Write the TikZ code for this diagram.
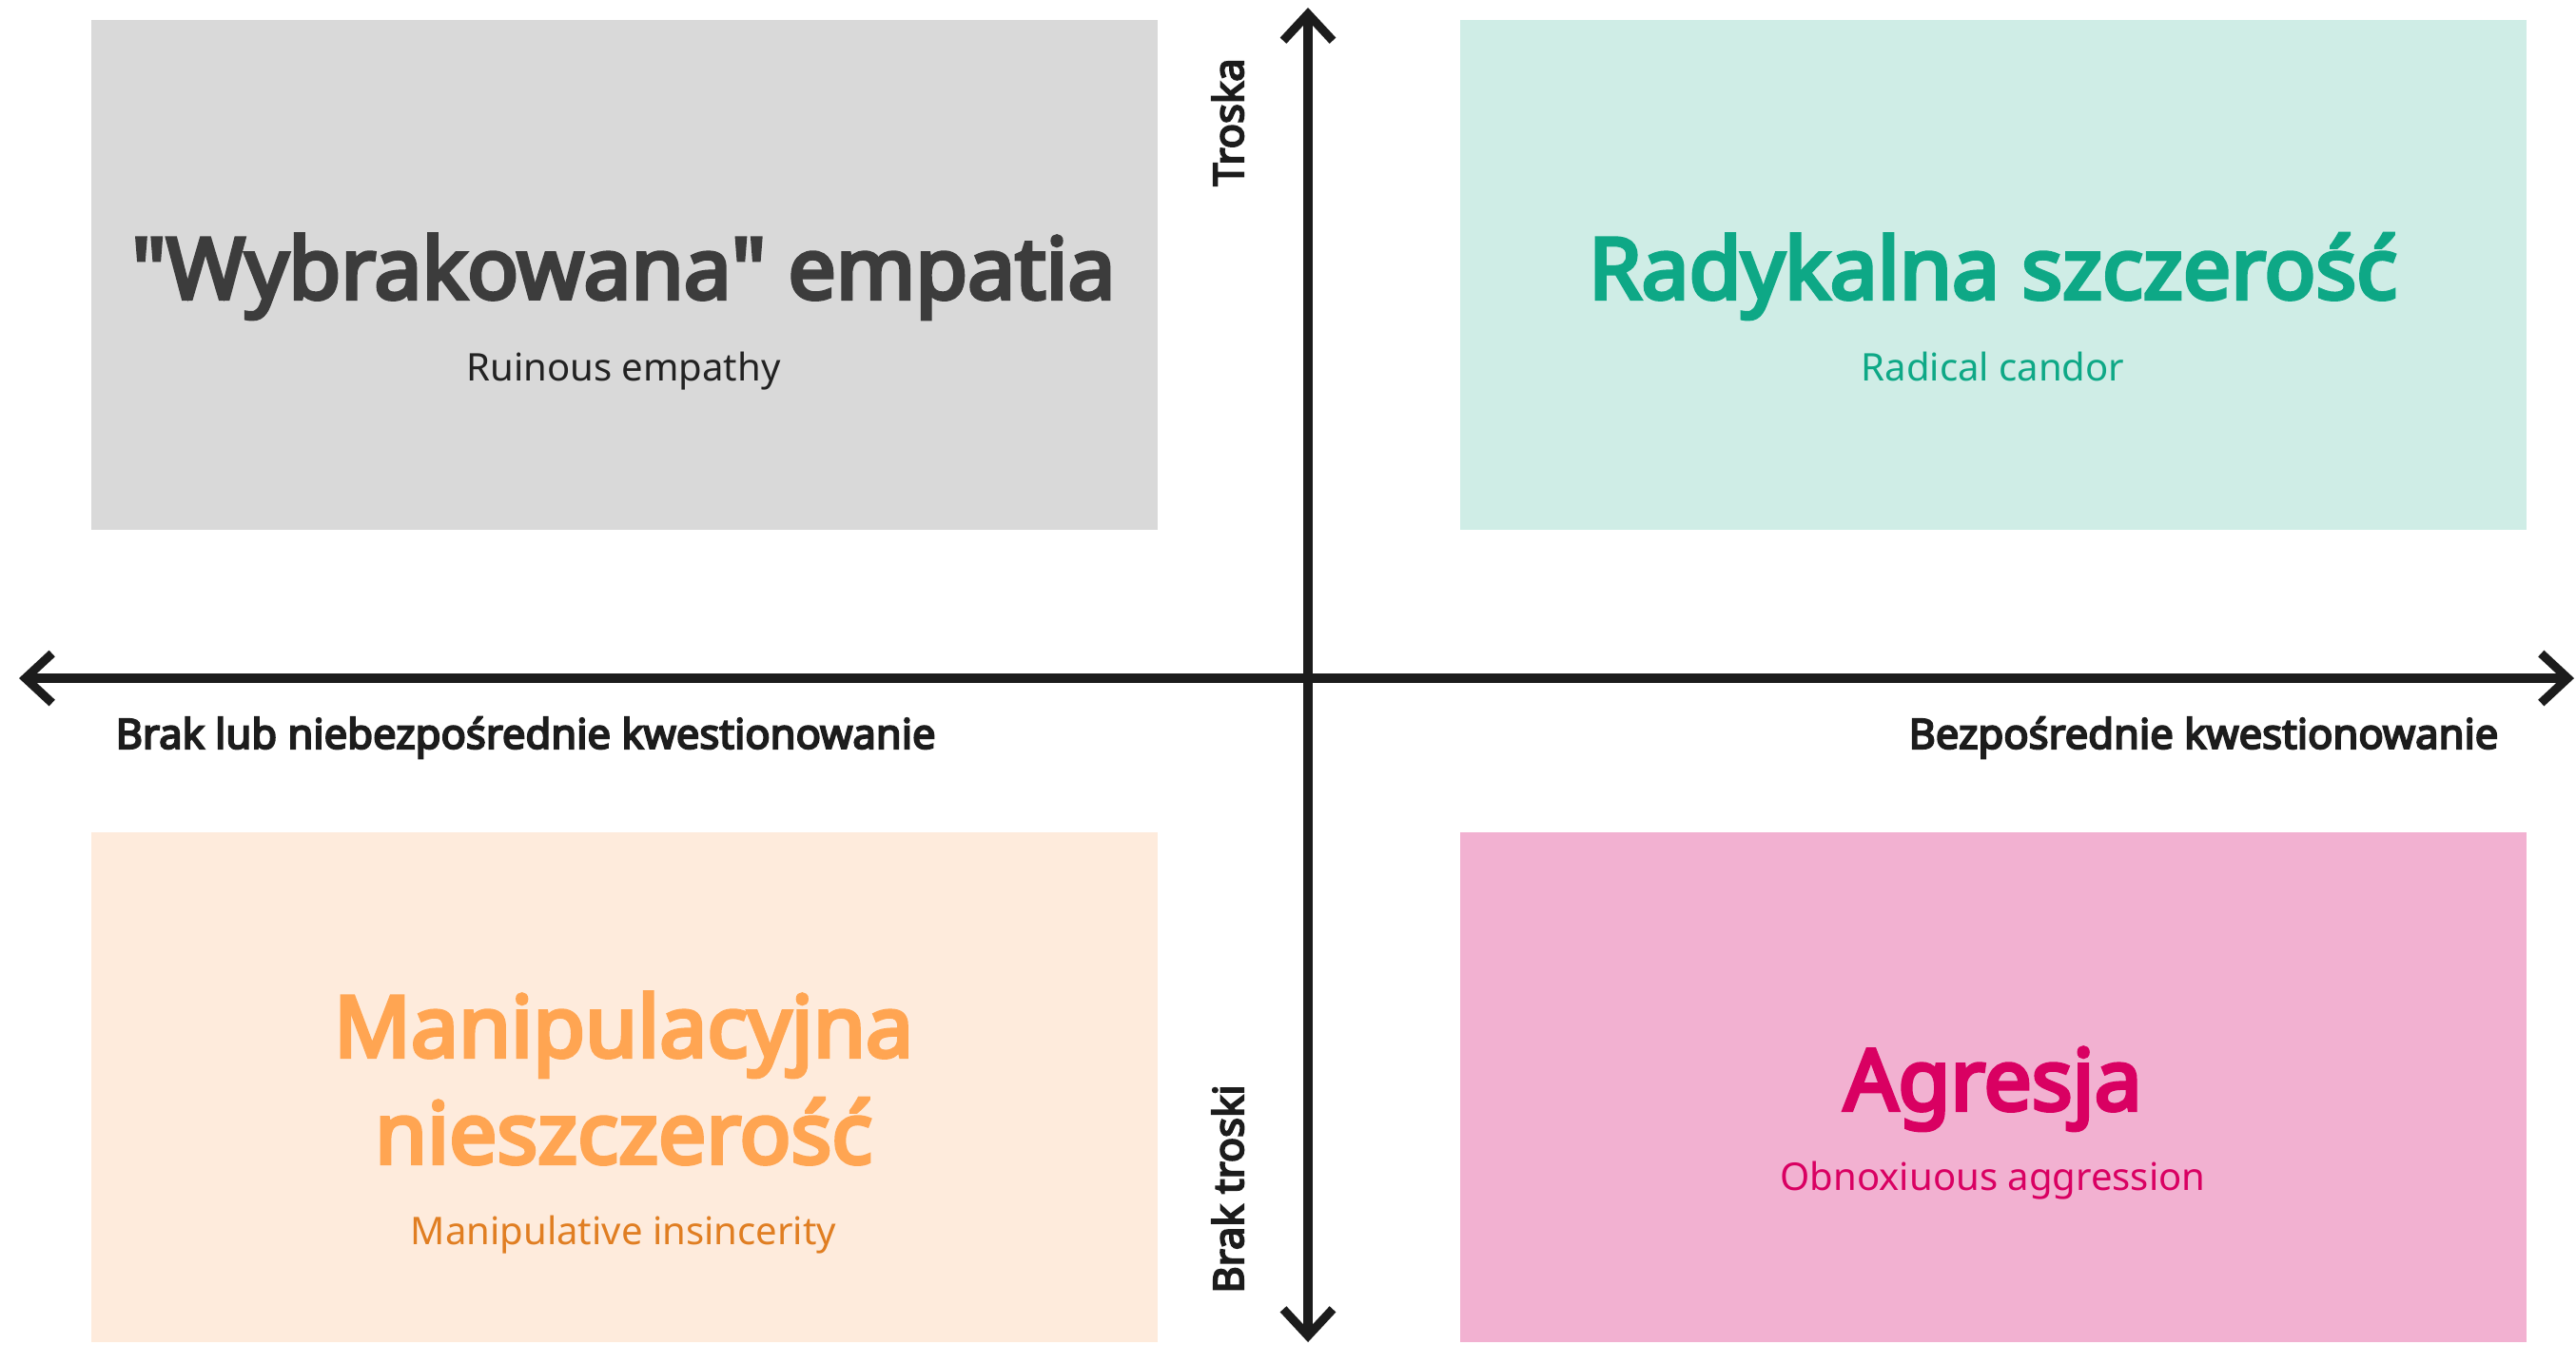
\documentclass[tikz,border=0pt]{standalone}
\usepackage{fontspec}
\setmainfont{Noto Sans}[BoldFont={Noto Sans}, BoldFeatures={FakeBold=4.5}]
\usetikzlibrary{arrows.meta}
\definecolor{axiscol}{HTML}{1C1C1C}
\definecolor{graybox}{HTML}{D9D9D9}
\definecolor{graytitle}{HTML}{3C3C3C}
\definecolor{graysub}{HTML}{222222}
\definecolor{tealbox}{HTML}{CFEDE6}
\definecolor{tealtext}{HTML}{0EA886}
\definecolor{orangebox}{HTML}{FEEBDC}
\definecolor{orangetitle}{HTML}{FFA552}
\definecolor{orangesub}{HTML}{E07E22}
\definecolor{pinkbox}{HTML}{F2B1D1}
\definecolor{pinktext}{HTML}{D90062}
\begin{document}
\begin{tikzpicture}[
        quad/.style={minimum width=11.21cm, minimum height=5.36cm, inner sep=0pt, anchor=north west},
        title/.style={font=\fontsize{25.4}{30}\selectfont\bfseries, anchor=base},
        sub/.style={font=\fontsize{11.4}{14}\selectfont, anchor=base},
        barb/.tip={Straight Barb[length=2.8mm, width=5.2mm]},
        axis/.style={line width=2.6pt, draw=axiscol, barb-barb},
        axlabel/.style={font=\fontsize{12.4}{14}\selectfont\bfseries, text=axiscol, inner sep=0pt}]
        \useasboundingbox (0, 0) rectangle (27.08, -14.13);
        % quadrants
        \node[quad, fill=graybox] (ruin) at (0.95, -0.20) {};
        \node[quad, fill=tealbox] (radical) at (15.34, -0.20) {};
        \node[quad, fill=orangebox] (manip) at (0.95, -8.74) {};
        \node[quad, fill=pinkbox] (obnox) at (15.34, -8.74) {};
        % axes
        \coordinate (ytop) at (13.75, -0.08);
        \coordinate (ybot) at (13.75, -14.11);
        \coordinate (xleft) at (0.20, -7.13);
        \coordinate (xright) at (27.06, -7.13);
        \draw[axis] (ybot) -- (ytop);
        \draw[axis] (xleft) -- (xright);
        \node[axlabel, rotate=90, anchor=base] (care) at (13.07, -1.285) {Troska};
        \node[axlabel, rotate=90, anchor=base] (nocare) at (13.07, -12.50) {Brak troski};
        \node[axlabel, anchor=base west] (indirect) at (1.21, -7.87) {Brak lub niebezpośrednie kwestionowanie};
        \node[axlabel, anchor=base east] (direct) at (26.27, -7.87) {Bezpośrednie kwestionowanie};
        % texts
        \node[title, text=graytitle] (ruintitle) at (6.555, -3.14) {\textquotedbl Wybrakowana\textquotedbl{} empatia};
        \node[sub, text=graysub] (ruinsub) at (6.555, -4.00) {Ruinous empathy};
        \node[title, text=tealtext] (radicaltitle) at (20.95, -3.14) {Radykalna szczerość};
        \node[sub, text=tealtext] (radicalsub) at (20.95, -4.00) {Radical candor};
        \node[title, text=orangetitle] (maniptitle) at (6.555, -11.11) {Manipulacyjna};
        \node[title, text=orangetitle] (maniptitleb) at (6.555, -12.23) {nieszczerość};
        \node[sub, text=orangesub] (manipsub) at (6.555, -13.08) {Manipulative insincerity};
        \node[title, text=pinktext] (obnoxtitle) at (20.95, -11.67) {Agresja};
        \node[sub, text=pinktext] (obnoxsub) at (20.95, -12.51) {Obnoxiuous aggression};
    \end{tikzpicture}
\end{document}
